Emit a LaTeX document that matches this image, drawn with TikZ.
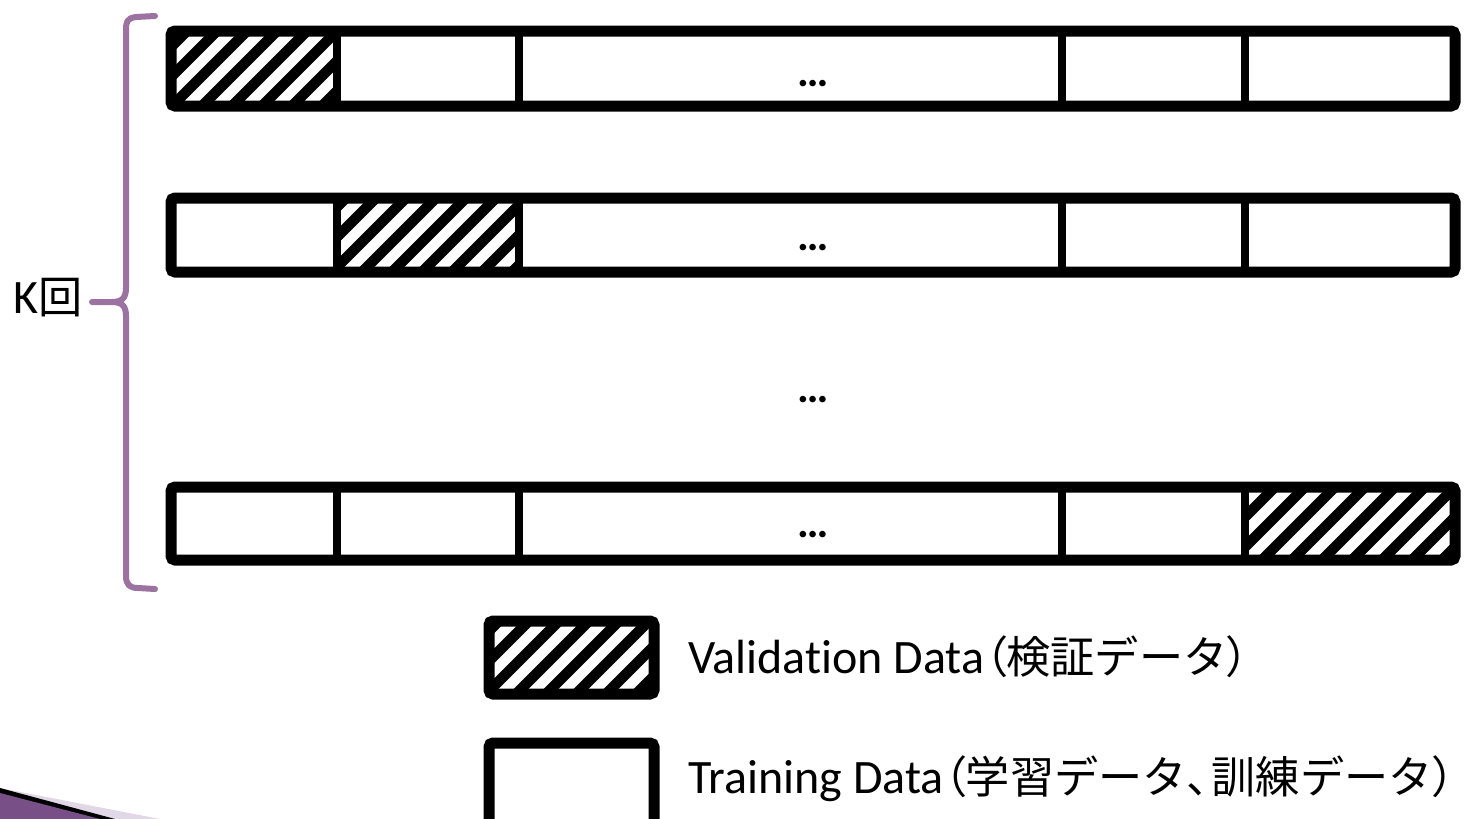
\documentclass[tikz,border=0pt]{standalone}
\usepackage{fontspec}
\setmainfont[Ligatures=NoCommon]{Carlito}
\newfontfamily\cjk[Scale=0.92]{Noto Sans CJK JP}
\newfontfamily\cjkp[Scale=0.92,RawFeature=+palt]{Noto Sans CJK JP}
\definecolor{bracepurple}{RGB}{155,114,160}
\definecolor{decopurple}{RGB}{120,80,135}
\definecolor{decolight}{RGB}{225,215,230}
\tikzset{
  frame/.style={draw=black, line width=11pt, rounded corners=4pt},
  divider/.style={draw=black, line width=7.5pt},
  hatchline/.style={draw=black, line width=10.5pt},
  dots/.style={font=\fontsize{44}{48}\selectfont\bfseries, inner sep=0pt, anchor=base},
  label/.style={font=\fontsize{48}{56}\selectfont, inner sep=0pt, anchor=base west},
}
\newcommand\hatchcell[5]{%
  \begin{scope}
    \clip (#1,#2) rectangle (#3,#4);
    \foreach \k in {0,...,12}
      \draw[hatchline] ({#1+#5+30*\k-120},{#4+5}) -- ++(130,-130);
  \end{scope}}
\begin{document}
\begin{tikzpicture}[x=1pt,y=-1pt]
\useasboundingbox (0,0) rectangle (1468,819);
% hatched cells
\hatchcell{171}{31}{337}{106}{26}
\hatchcell{337}{198}{519}{272}{20}
\hatchcell{1245}{487}{1455}{560}{12}
\hatchcell{489}{621}{654}{694}{22}
% rows
\foreach \ya/\yb [count=\r] in {31/106,198/272,487/560}{
  \draw[frame] (171,\ya) rectangle (1455,\yb);
  \foreach \xd in {337,519,1062,1245}
    \draw[divider] (\xd,\ya) -- (\xd,\yb);
}
% dots
\node[dots] (d1) at (813,86) {…};
\node[dots] (d2) at (813,250) {…};
\node[dots] (d3) at (813,402) {…};
\node[dots] (d4) at (813,537) {…};
% brace
\draw[bracepurple, line width=6pt, line cap=round, line join=round]
  (155,16) -- (136,17) .. controls (127,18) and (126,22) .. (126,30)
  -- (126,288) .. controls (126,298) and (122,302) .. (112,302) -- (92,302);
\draw[bracepurple, line width=6pt, line cap=round, line join=round]
  (112,302) .. controls (122,302) and (126,306) .. (126,316)
  -- (126,576) .. controls (126,585) and (130,588) .. (138,588) -- (155,589);
\node[label] (k) at (13,313) {K{\cjk 回}};
% legend
\draw[frame] (489,621) rectangle (654,694);
\draw[frame] (489,743) rectangle (654,840);
\node[label] (lv) at (688,673) {Validation Data{\cjkp （}{\cjk 検証データ}{\cjkp ）}};
\node[label] (lt) at (688,793) {Training Data{\cjkp （}{\cjk 学習データ}{\cjkp 、}\hspace{3pt}{\cjk 訓練データ}{\cjkp ）}};
% corner decoration
\fill[decolight] (0,788) -- (160,819) -- (0,819) -- cycle;
\fill[black] (0,788) -- (115,819) -- (0,819) -- cycle;
\fill[decopurple] (0,793) -- (100,819) -- (0,819) -- cycle;
\end{tikzpicture}
\end{document}
